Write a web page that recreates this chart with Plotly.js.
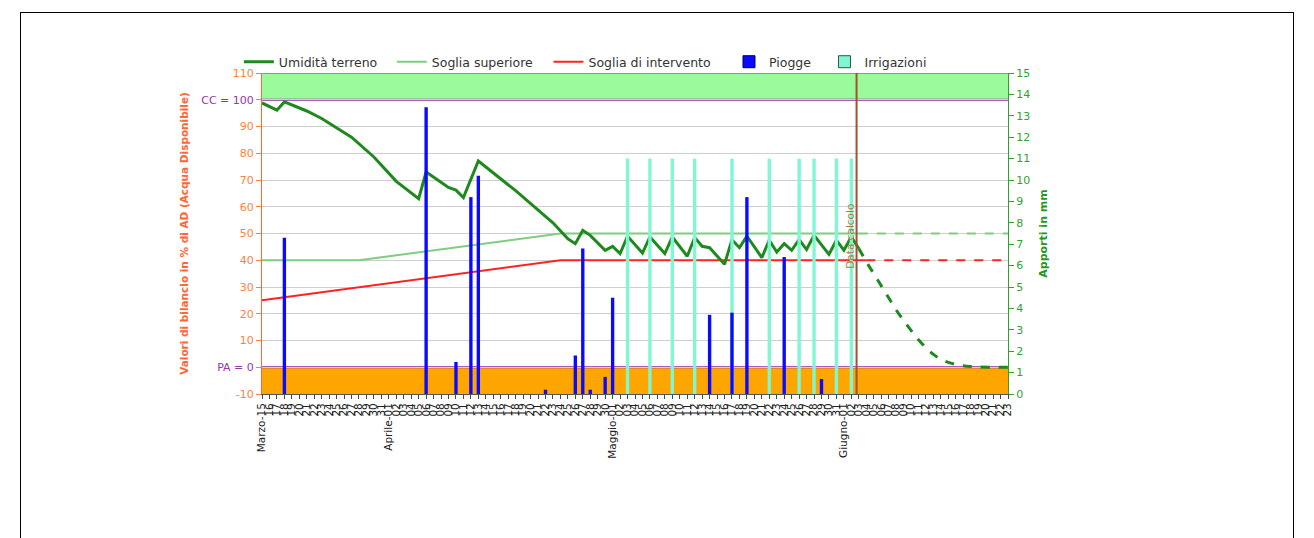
<!DOCTYPE html>
<html>
<head>
<meta charset="utf-8">
<script src="https://cdn.plot.ly/plotly-3.0.1.min.js"></script>
<style>
  html, body { margin: 0; padding: 0; background: #fff; }
  #wrap { position: relative; width: 1314px; height: 538px; overflow: hidden; }
  #chart { position: absolute; left: 0; top: 0; width: 1314px; height: 538px; }
  #frame { position: absolute; left: 20px; top: 12px; width: 1272px; height: 600px; border: 1px solid #000; pointer-events: none; }
</style>
</head>
<body>
<div id="wrap"><div id="chart"></div><div id="frame"></div></div>
<script>
// ---- tick labels (one per day, Marzo-15 .. Giugno-23) ----
const dayLabels = [
  "Marzo-15","16","17","18","19","20","21","22","23","24","25","26","27","28","29","30","31",
  "Aprile-01","02","03","04","05","06","07","08","09","10","11","12","13","14","15","16","17","18","19","20","21","22","23","24","25","26","27","28","29","30",
  "Maggio-01","02","03","04","05","06","07","08","09","10","11","12","13","14","15","16","17","18","19","20","21","22","23","24","25","26","27","28","29","30","31",
  "Giugno-01","02","03","04","05","06","07","08","09","10","11","12","13","14","15","16","17","18","19","20","21","22","23"
];
const dayIndex = dayLabels.map((_, i) => i);

// ---- soil moisture (% AD), observed up to calculation date ----
const soilX = [0, 2, 3, 6, 8, 12, 15, 18, 21, 22, 25, 26, 27, 29, 34, 37, 39, 41, 42, 43, 44, 46, 47, 48,
  49, 51, 52, 54, 55, 57, 58, 59, 60, 62, 63, 64, 65, 67, 68, 69, 70, 71, 72, 73, 74, 76, 77, 78, 79, 80];
const soilY = [98.8, 96.1, 99.2, 95.8, 93.0, 86.0, 78.6, 69.5, 63.0, 73.0, 67.2, 66.2, 63.4, 77.1, 66.0, 58.7, 54.0, 48.0, 46.2, 51.2, 49.3, 43.7, 45.2, 42.5,
  49.0, 42.7, 48.7, 42.5, 48.7, 41.5, 48.5, 45.2, 44.7, 38.5, 47.7, 44.7, 49.0, 41.0, 47.5, 43.1, 46.2, 43.7, 47.7, 44.0, 49.3, 42.2, 47.5, 43.7, 48.7, 44.4];

// ---- soil moisture forecast (dashed) ----
const forecastX = [80, 81, 82, 83, 84, 85, 86, 87, 88, 89, 90, 91, 92, 93, 94, 95, 96, 98, 100];
const forecastY = [44.4, 39.5, 35.0, 30.5, 26.0, 21.5, 17.5, 13.8, 10.3, 7.3, 4.8, 3.0, 1.8, 1.1, 0.6, 0.3, 0.1, 0.0, 0.0];

// ---- upper threshold ----
const upperX = [0, 13, 40, 80];
const upperY = [40, 40, 50, 50];
const upperFcX = [80, 100];
const upperFcY = [50, 50];

// ---- intervention threshold ----
const interX = [0, 40, 81];
const interY = [25, 40, 40];
const interFcX = [81, 100];
const interFcY = [40, 40];

// ---- rain (mm) ----
const rainX = [3, 22, 26, 28, 29, 38, 42, 43, 44, 46, 47, 60, 63, 65, 70, 75];
const rainMM = [7.3, 13.4, 1.5, 9.2, 10.2, 0.2, 1.8, 6.8, 0.2, 0.8, 4.5, 3.7, 3.8, 9.2, 6.4, 0.7];

// ---- irrigations (mm) ----
const irrX = [49, 52, 55, 58, 63, 68, 72, 74, 77, 79];
const irrMM = [11, 11, 11, 11, 11, 11, 11, 11, 11, 11];

// ---- reference levels ----
const ccLevel = 100, paLevel = 0, calcDay = 79.7;
const leftTicks = [-10, 0, 10, 20, 30, 40, 50, 60, 70, 80, 90, 100, 110];
const leftTickText = ["-10", "<span style=\"color:#9933aa\">PA = 0</span>", "10", "20", "30", "40", "50", "60", "70", "80", "90",
  "<span style=\"color:#9933aa\">CC = 100</span>", "110"];

const FONT = "DejaVu Sans, Verdana, sans-serif";
const C_SOIL = "#1e8a1e", C_UP = "#80cc80", C_INT = "#ff2222", C_RAIN = "#0a0aff", C_IRR = "#7ff7d2";

const traces = [
  { x: irrX, y: irrMM, type: "bar", yaxis: "y2", name: "Irrigazioni", width: 0.45,
    marker: { color: C_IRR, line: { width: 0 } }, showlegend: false },
  { x: rainX, y: rainMM, type: "bar", yaxis: "y2", name: "Piogge", width: 0.45,
    marker: { color: C_RAIN, line: { width: 0 } }, showlegend: false },
  { x: upperX, y: upperY, type: "scatter", mode: "lines", line: { color: C_UP, width: 2 }, showlegend: false },
  { x: upperFcX, y: upperFcY, type: "scatter", mode: "lines", line: { color: C_UP, width: 2, dash: "dash" }, showlegend: false },
  { x: interX, y: interY, type: "scatter", mode: "lines", line: { color: C_INT, width: 2 }, showlegend: false },
  { x: interFcX, y: interFcY, type: "scatter", mode: "lines", line: { color: C_INT, width: 2, dash: "dash" }, showlegend: false },
  { x: soilX, y: soilY, type: "scatter", mode: "lines", line: { color: C_SOIL, width: 3 }, showlegend: false },
  { x: forecastX, y: forecastY, type: "scatter", mode: "lines", line: { color: C_SOIL, width: 3, dash: "dash", shape: "spline" }, showlegend: false },
  // legend entries, each in its own legend box
  { x: [null], y: [null], type: "scatter", mode: "lines", name: "Umidità terreno", line: { color: C_SOIL, width: 3 }, legend: "legend" },
  { x: [null], y: [null], type: "scatter", mode: "lines", name: "Soglia superiore", line: { color: C_UP, width: 2 }, legend: "legend2" },
  { x: [null], y: [null], type: "scatter", mode: "lines", name: "Soglia di intervento", line: { color: C_INT, width: 2 }, legend: "legend3" },
  { x: [null], y: [null], type: "bar", yaxis: "y2", name: "Piogge", marker: { color: C_RAIN, line: { color: "#000066", width: 1 } }, legend: "legend4" },
  { x: [null], y: [null], type: "bar", yaxis: "y2", name: "Irrigazioni", marker: { color: C_IRR, line: { color: "#335544", width: 1 } }, legend: "legend5" }
];

function leg(xp) {
  return { orientation: "h", x: xp, xanchor: "left", y: 1.034, yanchor: "middle",
    font: { family: FONT, size: 12.5, color: "#333" }, itemwidth: 30, bgcolor: "rgba(0,0,0,0)" };
}

const layout = {
  width: 1314, height: 538,
  margin: { l: 262, r: 306, t: 73, b: 144, pad: 0 },
  paper_bgcolor: "#ffffff", plot_bgcolor: "#ffffff",
  font: { family: FONT, size: 10, color: "#333" },
  barmode: "overlay",
  showlegend: true,
  legend: leg(-0.031), legend2: leg(0.174), legend3: leg(0.384), legend4: leg(0.626), legend5: leg(0.754),
  xaxis: {
    type: "linear", range: [0, 100], tickmode: "array", tickvals: dayIndex, ticktext: dayLabels,
    tickangle: -90, tickfont: { family: FONT, size: 10.5, color: "#222" },
    ticks: "outside", ticklen: 4, tickcolor: "#444", showgrid: false, zeroline: false,
    showline: true, linecolor: "#555", linewidth: 1, mirror: false
  },
  yaxis: {
    range: [-10, 110], tickmode: "array", tickvals: leftTicks, ticktext: leftTickText,
    tickfont: { family: FONT, size: 11, color: "#ff7f3f" },
    ticks: "outside", ticklen: 5, tickcolor: "#ff7f3f",
    showgrid: true, gridcolor: "#cfcfcf", gridwidth: 1, zeroline: false,
    showline: true, linecolor: "#ff6633", linewidth: 1,
    title: { text: "<b>Valori di bilancio in % di AD (Acqua Disponibile)</b>", standoff: 10,
      font: { family: FONT, size: 10.5, color: "#ff6633" } }
  },
  yaxis2: {
    overlaying: "y", side: "right", range: [0, 15], dtick: 1, tick0: 0,
    tickfont: { family: FONT, size: 11, color: "#33a033" },
    ticks: "outside", ticklen: 5, tickcolor: "#33a033",
    showgrid: false, zeroline: false, showline: true, linecolor: "#33a033", linewidth: 1,
    title: { text: "<b>Apporti in mm</b>", standoff: 10, font: { family: FONT, size: 11, color: "#229922" } }
  },
  shapes: [
    { type: "rect", xref: "paper", yref: "y", x0: 0, x1: 1, y0: ccLevel, y1: 110, fillcolor: "#99fb99", line: { width: 0 }, layer: "below" },
    { type: "rect", xref: "paper", yref: "y", x0: 0, x1: 1, y0: -10, y1: paLevel, fillcolor: "#ffa500", line: { width: 0 }, layer: "below" },
    { type: "line", xref: "paper", yref: "y", x0: 0, x1: 1, y0: ccLevel, y1: ccLevel, line: { color: "#8e2a9e", width: 2 }, layer: "below" },
    { type: "line", xref: "paper", yref: "y", x0: 0, x1: 1, y0: paLevel, y1: paLevel, line: { color: "#8e2a9e", width: 2 }, layer: "below" },
    { type: "line", xref: "paper", yref: "y", x0: 0, x1: 1, y0: 110, y1: 110, line: { color: "#555", width: 1 } },
    { type: "line", xref: "x", yref: "paper", x0: calcDay, x1: calcDay, y0: 0, y1: 1, line: { color: "#a0522d", width: 2 } }
  ],
  annotations: [
    { xref: "x", yref: "y", x: calcDay, xanchor: "right", xshift: 2, y: 49, text: "Data calcolo", textangle: -90,
      showarrow: false, font: { family: FONT, size: 10.5, color: "#b07a3a" } }
  ]
};

Plotly.newPlot("chart", traces, layout, { displayModeBar: false, staticPlot: true });
</script>
</body>
</html>
